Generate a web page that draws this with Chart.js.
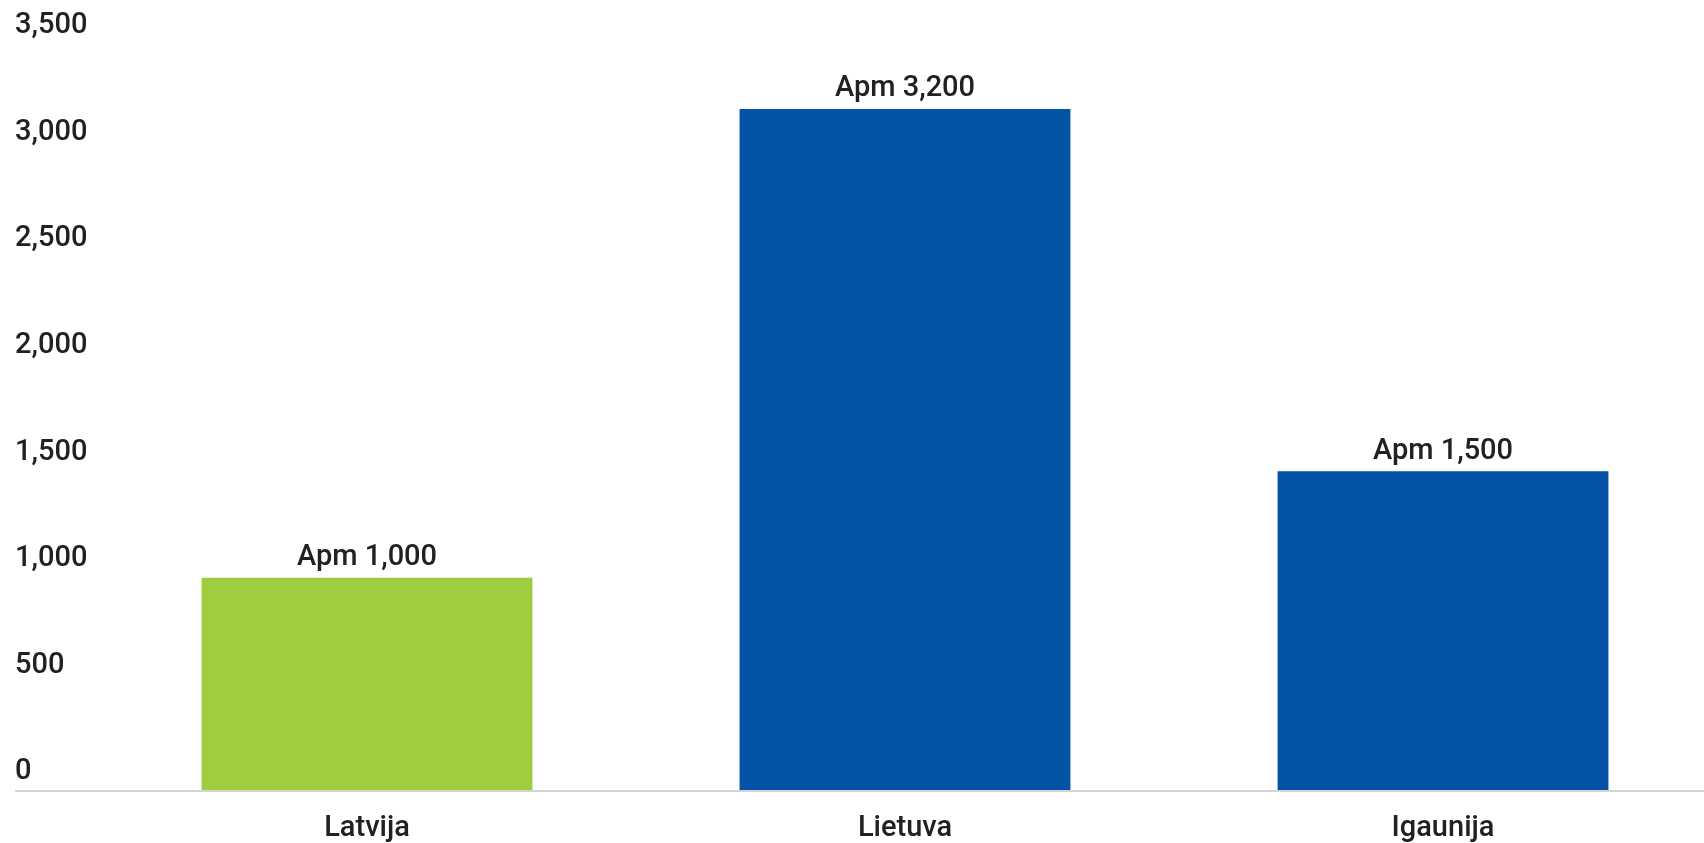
<!DOCTYPE html>
<html lang="lv">
<head>
    <meta charset="UTF-8">
    <title>Latvija, Lietuva, Igaunija</title>
    <script src="https://cdn.jsdelivr.net/npm/chart.js"></script>
    <style>
        html, body { margin: 0; padding: 0; background: #fff; overflow: hidden; }
        .chart-container { width: 1704px; height: 843px; overflow: hidden; }
    </style>
</head>
<body>
<div class="chart-container">
    <canvas id="barChart" width="1712" height="843"></canvas>
</div>

<script>
    const countries = ['Latvija', 'Lietuva', 'Igaunija'];
    const values = [1000, 3200, 1500];
    const valueLabels = ['Apm 1,000', 'Apm 3,200', 'Apm 1,500'];
    const barColors = ['#a0cd40', '#0553a6', '#0553a6'];

    const textColor = '#212121';
    const fontFamily = 'Roboto, "Noto Sans", sans-serif';

    // draws "Apm ..." above each bar
    const valueLabelPlugin = {
        id: 'valueLabels',
        afterDatasetsDraw(chart) {
            const ctx = chart.ctx;
            const meta = chart.getDatasetMeta(0);
            ctx.save();
            ctx.font = '500 29px ' + fontFamily;
            ctx.fillStyle = textColor;
            ctx.textAlign = 'center';
            ctx.textBaseline = 'middle';
            meta.data.forEach((bar, i) => {
                ctx.fillText(valueLabels[i], bar.x, bar.y - 20);
            });
            ctx.restore();
        }
    };

    new Chart(document.getElementById('barChart').getContext('2d'), {
        type: 'bar',
        data: {
            labels: countries,
            datasets: [{
                data: values,
                backgroundColor: barColors,
                borderWidth: 0,
                categoryPercentage: 1,
                barPercentage: 0.615
            }]
        },
        options: {
            responsive: false,
            animation: false,
            layout: {
                padding: { top: 45, left: 15, right: 0, bottom: 0 }
            },
            plugins: {
                legend: { display: false },
                tooltip: { enabled: false }
            },
            scales: {
                x: {
                    afterFit: scale => { scale.height = 52; },
                    grid: { display: false },
                    border: { display: false },
                    ticks: {
                        color: textColor,
                        padding: 12,
                        font: { family: fontFamily, size: 29, weight: '500' }
                    }
                },
                y: {
                    min: 0,
                    max: 3500,
                    afterFit: scale => { scale.width = 83; },
                    border: { display: false },
                    grid: {
                        drawTicks: true,
                        tickLength: 83,
                        lineWidth: 2,
                        color: c => c.tick && c.tick.value === 0 ? '#d4d4d4' : 'rgba(0,0,0,0)',
                        tickColor: c => c.tick && c.tick.value === 0 ? '#d4d4d4' : 'rgba(0,0,0,0)'
                    },
                    ticks: {
                        stepSize: 500,
                        color: textColor,
                        crossAlign: 'far',
                        labelOffset: -19,
                        padding: 0,
                        font: { family: fontFamily, size: 29, weight: '500' }
                    }
                }
            }
        },
        plugins: [valueLabelPlugin]
    });
</script>
</body>
</html>
